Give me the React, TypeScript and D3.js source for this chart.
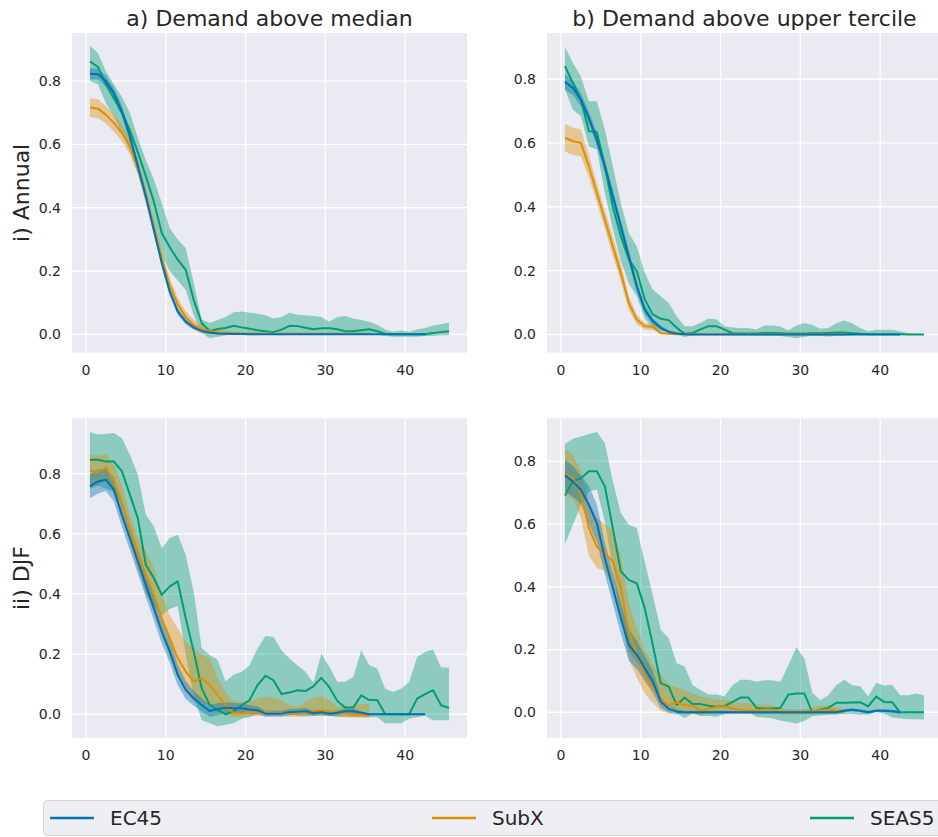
import React from "react";
import * as d3 from "d3";

// ---------- data ----------
const LEAD = [
  0.5, 1.5, 2.5, 3.5, 4.5, 5.5, 6.5, 7.5, 8.5, 9.5, 10.5, 11.5, 12.5, 13.5, 14.5, 15.5,
  16.5, 17.5, 18.5, 19.5, 20.5, 21.5, 22.5, 23.5, 24.5, 25.5, 26.5, 27.5, 28.5, 29.5, 30.5,
  31.5, 32.5, 33.5, 34.5, 35.5, 36.5, 37.5, 38.5, 39.5, 40.5, 41.5, 42.5, 43.5, 44.5, 45.5,
];

const MODELS = ["EC45", "SubX", "SEAS5"];
const COLORS = ["#0173B2", "#DE8F05", "#029E73"];
const COL_TITLES = ["a) Demand above median", "b) Demand above upper tercile"];
const ROW_TITLES = ["i) Annual", "ii) DJF"];
const Y_TICKS = [0, 0.2, 0.4, 0.6, 0.8];
const X_TICKS = [0, 10, 20, 30, 40];

// a-i  (Annual, above median)
const A1_EC_MEAN = [0.823,0.822,0.8,0.762,0.705,0.626,0.531,0.436,0.331,0.226,0.135,0.072,0.04,0.022,0.011,0.006,0.003,0.002,0.001,0.001,0,0,0,0,0,0,0,0,0,0,0,0,0,0,0,0,0,0,0,0,0,0,0];
const A1_EC_CI = [0.018,0.017,0.017,0.017,0.017,0.017,0.017,0.017,0.016,0.015,0.013,0.011,0.009,0.007,0.005,0.004,0.003,0.002,0.002,0.001,0.001,0.001,0.001,0.001,0.001,0.001,0.001,0.001,0.001,0.001,0.001,0.001,0.001,0.001,0.001,0.001,0.001,0.001,0.001,0.001,0.001,0.001,0.001];
const A1_SX_MEAN = [0.717,0.713,0.694,0.668,0.636,0.594,0.53,0.44,0.34,0.24,0.155,0.095,0.055,0.03,0.017,0.01,0.007,0.005,0.004,0.003,0.003,0.003,0.002,0.002,0.002,0.002,0.002,0.002,0.002,0.002,0.002,0.002,0.002,0.002,0.002,0.002];
const A1_SX_CI = [0.03,0.03,0.028,0.027,0.026,0.025,0.025,0.025,0.025,0.024,0.022,0.02,0.018,0.016,0.014,0.01,0.007,0.005,0.004,0.003,0.003,0.003,0.003,0.003,0.003,0.003,0.003,0.003,0.003,0.003,0.003,0.003,0.003,0.003,0.003,0.003];
const A1_S5_MEAN = [0.862,0.845,0.79,0.745,0.7,0.645,0.575,0.5,0.42,0.32,0.275,0.236,0.204,0.109,0.036,0.01,0.017,0.02,0.027,0.022,0.018,0.013,0.01,0.007,0.015,0.027,0.026,0.021,0.016,0.019,0.019,0.016,0.01,0.01,0.013,0.016,0.01,0.002,0,0,0,0,0,0.004,0.007,0.01];
const A1_S5_LO = [0.8,0.79,0.73,0.69,0.635,0.58,0.51,0.43,0.35,0.25,0.2,0.17,0.14,0.06,0.005,-0.012,-0.008,-0.003,0,0,0,0,0,0,0,0.003,0.003,0.002,0,0.002,0.002,0,0,0,0,0,0,-0.005,-0.008,-0.008,-0.008,-0.008,-0.005,-0.005,-0.003,-0.003];
const A1_S5_HI = [0.912,0.889,0.83,0.79,0.75,0.7,0.62,0.55,0.49,0.415,0.335,0.3,0.273,0.163,0.047,0.037,0.045,0.055,0.07,0.072,0.068,0.065,0.06,0.05,0.055,0.068,0.062,0.06,0.058,0.055,0.04,0.055,0.058,0.05,0.045,0.04,0.03,0.015,0.008,0.012,0.008,0.015,0.02,0.028,0.033,0.037];

// b-i  (Annual, above upper tercile)
const B1_EC_MEAN = [0.791,0.772,0.735,0.678,0.61,0.527,0.433,0.339,0.245,0.151,0.078,0.042,0.021,0.008,0.003,0.001,0,0,0,0,0,0,0,0,0,0,0,0,0,0,0,0,0,0,0,0,0,0,0,0,0,0,0];
const B1_EC_CI = [0.025,0.022,0.02,0.02,0.02,0.02,0.02,0.02,0.02,0.018,0.014,0.01,0.007,0.005,0.003,0.002,0.001,0.001,0.001,0.001,0.001,0.001,0.001,0.001,0.001,0.001,0.001,0.001,0.001,0.001,0.001,0.001,0.001,0.001,0.001,0.001,0.001,0.001,0.001,0.001,0.001,0.001,0.001];
const B1_SX_MEAN = [0.616,0.605,0.6,0.527,0.443,0.36,0.276,0.193,0.099,0.047,0.026,0.024,0.005,0.002,0.001,0.001,0.001,0.001,0.001,0.001,0.001,0.001,0.001,0.001,0.001,0.001,0.001,0.001,0.001,0.001,0.001,0.001,0.001,0.001,0.001,0.001];
const B1_SX_CI = [0.043,0.043,0.042,0.035,0.03,0.03,0.03,0.028,0.022,0.015,0.01,0.01,0.004,0.002,0.002,0.001,0.001,0.001,0.001,0.001,0.001,0.001,0.001,0.001,0.001,0.001,0.001,0.001,0.001,0.001,0.001,0.001,0.001,0.001,0.001,0.001];
const B1_S5_MEAN = [0.84,0.788,0.735,0.636,0.634,0.527,0.4,0.308,0.235,0.198,0.11,0.063,0.049,0.045,0.021,0.002,0.005,0.016,0.026,0.026,0.015,0.004,0.003,0.003,0.003,0.005,0.005,0.004,0.003,0.003,0.003,0.004,0.004,0.005,0.006,0.006,0.004,0.002,0.001,0.001,0.001,0.001,0.001,0,0,0];
const B1_S5_LO = [0.767,0.704,0.683,0.589,0.579,0.443,0.33,0.23,0.16,0.12,0.05,0.02,0.01,0.01,0,-0.008,-0.003,0.003,0.005,0.005,0.003,0,-0.002,-0.002,-0.003,-0.003,-0.004,-0.005,-0.008,-0.012,-0.008,-0.004,-0.005,-0.006,-0.005,-0.004,-0.002,-0.001,0,0,0,0,0,0,0,0];
const B1_S5_HI = [0.9,0.85,0.808,0.73,0.73,0.642,0.527,0.412,0.318,0.276,0.193,0.141,0.12,0.099,0.057,0.026,0.026,0.037,0.05,0.047,0.026,0.022,0.02,0.02,0.016,0.028,0.028,0.025,0.013,0.028,0.036,0.03,0.018,0.02,0.035,0.044,0.035,0.02,0.01,0.015,0.015,0.015,0.01,0.005,0.002,0];

// a-ii (DJF, above median)
const A2_EC_MEAN = [0.758,0.774,0.78,0.747,0.663,0.586,0.508,0.43,0.353,0.275,0.209,0.131,0.081,0.053,0.031,0.011,0.017,0.022,0.02,0.02,0.016,0.013,0.002,0.002,0.002,0.007,0.008,0.01,0.004,0.007,0.002,0.005,0.01,0.01,0.005,0,0,0,0,0,0,0,0];
const A2_EC_CI = [0.04,0.04,0.038,0.04,0.04,0.04,0.04,0.04,0.04,0.04,0.038,0.035,0.03,0.025,0.022,0.02,0.02,0.018,0.017,0.016,0.015,0.013,0.01,0.01,0.01,0.01,0.01,0.01,0.008,0.008,0.008,0.008,0.008,0.008,0.005,0.003,0.002,0.002,0.002,0.002,0.002,0.002,0.002];
const A2_SX_MEAN = [0.81,0.805,0.82,0.774,0.708,0.619,0.53,0.464,0.397,0.319,0.253,0.186,0.142,0.109,0.12,0.098,0.064,0.031,0.003,0.003,0.006,0.006,0.005,0.003,0.005,0.003,0.003,0.005,0.011,0.013,0.01,0.005,0.003,-0.003,-0.003,-0.003];
const A2_SX_LO = [0.76,0.76,0.78,0.73,0.65,0.57,0.48,0.41,0.34,0.26,0.19,0.13,0.08,0.04,0.04,0.03,0.01,0,-0.01,-0.01,-0.006,-0.006,-0.006,-0.006,-0.006,-0.008,-0.008,-0.008,-0.006,-0.005,-0.006,-0.008,-0.01,-0.012,-0.012,-0.012];
const A2_SX_HI = [0.863,0.861,0.865,0.83,0.763,0.663,0.586,0.541,0.486,0.397,0.33,0.286,0.242,0.22,0.197,0.186,0.12,0.075,0.042,0.042,0.041,0.052,0.058,0.055,0.047,0.03,0.024,0.041,0.055,0.06,0.047,0.026,0.026,0.03,0.033,0.035];
const A2_S5_MEAN = [0.846,0.846,0.84,0.84,0.808,0.73,0.652,0.497,0.453,0.397,0.425,0.442,0.319,0.209,0.087,0.031,0.014,0,0.01,0.03,0.047,0.097,0.128,0.113,0.067,0.072,0.08,0.077,0.093,0.121,0.09,0.044,0.022,0.022,0.063,0.047,0.047,0,0,0,0,0.052,0.067,0.08,0.03,0.021];
const A2_S5_LO = [0.75,0.76,0.75,0.74,0.7,0.6,0.51,0.4,0.36,0.33,0.35,0.36,0.2,0.06,-0.02,-0.03,-0.04,-0.035,-0.03,-0.015,-0.01,0,0.01,0.01,0,0,-0.005,-0.005,-0.005,-0.005,-0.005,-0.008,-0.008,-0.008,-0.008,-0.01,-0.01,-0.03,-0.03,-0.03,-0.015,-0.01,-0.005,-0.02,-0.02,-0.02];
const A2_S5_HI = [0.938,0.93,0.932,0.935,0.918,0.863,0.796,0.663,0.625,0.552,0.586,0.597,0.53,0.408,0.22,0.197,0.181,0.109,0.131,0.141,0.163,0.219,0.26,0.257,0.213,0.185,0.163,0.141,0.105,0.202,0.158,0.108,0.108,0.124,0.213,0.163,0.152,0.085,0.074,0.085,0.108,0.19,0.207,0.215,0.155,0.155];

// b-ii (DJF, above upper tercile)
const B2_EC_MEAN = [0.755,0.736,0.709,0.661,0.603,0.491,0.396,0.3,0.215,0.183,0.14,0.098,0.034,0.011,0.002,0,0,0,0,0,0,0,0,0,0,0,0,0,0,0,0,0,0,0,0,0.005,0.008,0.005,0,0.005,0.005,0.003,0];
const B2_EC_CI = [0.05,0.05,0.045,0.06,0.06,0.05,0.05,0.05,0.05,0.045,0.04,0.035,0.02,0.012,0.008,0.005,0.005,0.005,0.005,0.005,0.005,0.005,0.005,0.005,0.005,0.005,0.005,0.005,0.005,0.005,0.005,0.005,0.005,0.005,0.005,0.005,0.005,0.005,0.005,0.005,0.005,0.005,0.005];
const B2_SX_MEAN = [0.759,0.746,0.7,0.587,0.528,0.507,0.48,0.396,0.257,0.183,0.119,0.077,0.045,0.023,0.031,0.023,0.021,0.005,0.011,0.017,0.019,0.012,0.008,0.006,0.006,0.009,0.009,0.003,0,0,0,0.003,0.006,0.009,0.006,0];
const B2_SX_LO = [0.69,0.68,0.62,0.5,0.46,0.45,0.4,0.3,0.17,0.11,0.06,0.03,0.005,-0.005,0,0,-0.005,-0.01,-0.005,0,-0.003,-0.004,-0.005,-0.005,-0.005,-0.004,-0.004,-0.006,-0.008,-0.008,-0.008,-0.006,-0.004,-0.003,-0.004,-0.006];
const B2_SX_HI = [0.84,0.82,0.77,0.67,0.62,0.6,0.58,0.5,0.35,0.27,0.2,0.15,0.12,0.09,0.08,0.07,0.06,0.05,0.045,0.04,0.04,0.035,0.03,0.03,0.025,0.025,0.022,0.015,0.01,0.01,0.01,0.015,0.02,0.022,0.018,0.01];
const B2_S5_MEAN = [0.691,0.736,0.746,0.768,0.768,0.72,0.587,0.449,0.422,0.411,0.332,0.215,0.093,0.082,0.023,0.047,0.026,0.026,0.021,0.018,0.02,0.033,0.047,0.047,0.014,0.012,0.012,0.014,0.057,0.06,0.06,0,0.008,0.014,0.03,0.03,0.031,0.032,0.019,0.05,0.033,0.032,0,0,0,0];
const B2_S5_LO = [0.536,0.598,0.661,0.704,0.709,0.608,0.459,0.3,0.194,0.162,0.119,0.087,0.055,0.029,-0.003,-0.019,-0.003,-0.012,-0.012,-0.014,-0.006,0.001,0.006,0,-0.015,-0.017,-0.02,-0.026,-0.031,-0.036,-0.028,-0.013,-0.01,-0.008,-0.007,-0.005,-0.005,-0.008,-0.007,0.001,-0.004,-0.017,-0.02,-0.022,-0.022,-0.023];
const B2_S5_HI = [0.855,0.872,0.879,0.887,0.893,0.858,0.736,0.635,0.598,0.587,0.48,0.374,0.263,0.236,0.156,0.146,0.087,0.071,0.057,0.057,0.051,0.086,0.104,0.104,0.097,0.102,0.102,0.097,0.15,0.208,0.171,0.062,0.038,0.054,0.086,0.104,0.086,0.083,0.05,0.094,0.085,0.088,0.054,0.054,0.06,0.054];

// ---------- helpers ----------
type Series = { mean: number[]; lo: number[]; hi: number[] };
const withCi = (mean: number[], ci: number[]): Series => ({
  mean,
  lo: mean.map((m, i) => m - ci[i]),
  hi: mean.map((m, i) => m + ci[i]),
});
const withBand = (mean: number[], lo: number[], hi: number[]): Series => ({ mean, lo, hi });

const PANELS = [
  { row: 0, col: 0, yDomain: [-0.058, 0.952], series: [withCi(A1_EC_MEAN, A1_EC_CI), withCi(A1_SX_MEAN, A1_SX_CI), withBand(A1_S5_MEAN, A1_S5_LO, A1_S5_HI)] },
  { row: 0, col: 1, yDomain: [-0.057, 0.944], series: [withCi(B1_EC_MEAN, B1_EC_CI), withCi(B1_SX_MEAN, B1_SX_CI), withBand(B1_S5_MEAN, B1_S5_LO, B1_S5_HI)] },
  { row: 1, col: 0, yDomain: [-0.079, 0.984], series: [withCi(A2_EC_MEAN, A2_EC_CI), withBand(A2_SX_MEAN, A2_SX_LO, A2_SX_HI), withBand(A2_S5_MEAN, A2_S5_LO, A2_S5_HI)] },
  { row: 1, col: 1, yDomain: [-0.082, 0.937], series: [withCi(B2_EC_MEAN, B2_EC_CI), withBand(B2_SX_MEAN, B2_SX_LO, B2_SX_HI), withBand(B2_S5_MEAN, B2_S5_LO, B2_S5_HI)] },
];

// ---------- layout ----------
const W = 938;
const H = 837;
const COL_X = [72, 547];
const ROW_Y = [33, 418.3];
const PW = 395;
const PH = 319.7;
const FONT = "'DejaVu Sans', sans-serif";
const TXT = "#262626";
const DRAW_ORDER = [2, 1, 0];

function Panel({ p, idx }: { p: (typeof PANELS)[number]; idx: number }) {
  const x = d3.scaleLinear().domain([-1.75, 47.75]).range([0, PW]);
  const y = d3.scaleLinear().domain(p.yDomain).range([PH, 0]);
  const line = d3
    .line<[number, number]>()
    .x((d) => x(d[0]))
    .y((d) => y(d[1]));
  const area = d3
    .area<[number, number, number]>()
    .x((d) => x(d[0]))
    .y0((d) => y(d[1]))
    .y1((d) => y(d[2]));
  const clipId = `clip-${idx}`;
  return (
    <g transform={`translate(${COL_X[p.col]},${ROW_Y[p.row]})`}>
      <defs>
        <clipPath id={clipId}>
          <rect x={0} y={0} width={PW} height={PH} />
        </clipPath>
      </defs>
      <rect x={0} y={0} width={PW} height={PH} fill="#EAEAF2" />
      {X_TICKS.map((t) => (
        <line key={"gx" + t} x1={x(t)} x2={x(t)} y1={0} y2={PH} stroke="#fff" strokeWidth={1.3} />
      ))}
      {Y_TICKS.map((t) => (
        <line key={"gy" + t} x1={0} x2={PW} y1={y(t)} y2={y(t)} stroke="#fff" strokeWidth={1.3} />
      ))}
      <g clipPath={`url(#${clipId})`}>
        {DRAW_ORDER.map((k) => {
          const s = p.series[k];
          const pts = s.mean.map((_, i) => [LEAD[i], s.lo[i], s.hi[i]] as [number, number, number]);
          return <path key={"a" + k} d={area(pts) || ""} fill={COLORS[k]} fillOpacity={0.4} stroke="none" />;
        })}
        {DRAW_ORDER.map((k) => {
          const s = p.series[k];
          const pts = s.mean.map((m, i) => [LEAD[i], m] as [number, number]);
          return (
            <path key={"l" + k} d={line(pts) || ""} fill="none" stroke={COLORS[k]} strokeWidth={2} strokeLinejoin="round" />
          );
        })}
      </g>
      {Y_TICKS.map((t) => (
        <text key={"ty" + t} x={-11} y={y(t)} dy="0.35em" textAnchor="end" fontSize={14} fill={TXT} fontFamily={FONT}>
          {t.toFixed(1)}
        </text>
      ))}
      {X_TICKS.map((t) => (
        <text key={"tx" + t} x={x(t)} y={PH + 22} textAnchor="middle" fontSize={14} fill={TXT} fontFamily={FONT}>
          {t}
        </text>
      ))}
    </g>
  );
}

export default function App() {
  const legendX = [50, 432, 810];
  return (
    <svg width={W} height={H} style={{ position: "absolute", left: 0, top: 0, background: "#fff" }}>
      {PANELS.map((p, i) => (
        <Panel key={i} p={p} idx={i} />
      ))}
      {COL_TITLES.map((t, i) => (
        <text key={t} x={COL_X[i] + PW / 2} y={26} textAnchor="middle" fontSize={22} fill={TXT} fontFamily={FONT}>
          {t}
        </text>
      ))}
      {ROW_TITLES.map((t, i) => (
        <text
          key={t}
          transform={`translate(29,${ROW_Y[i] + PH / 2}) rotate(-90)`}
          textAnchor="middle"
          fontSize={22}
          fill={TXT}
          fontFamily={FONT}
        >
          {t}
        </text>
      ))}
      <rect x={43.5} y={800.5} width={910} height={35} rx={4} fill="#EEEEF4" stroke="#D4D4D4" strokeWidth={1} />
      {MODELS.map((m, i) => (
        <g key={m}>
          <line x1={legendX[i]} x2={legendX[i] + 44} y1={818} y2={818} stroke={COLORS[i]} strokeWidth={2.5} />
          <text x={legendX[i] + 60} y={818} dy="0.35em" fontSize={20} fill={TXT} fontFamily={FONT}>
            {m}
          </text>
        </g>
      ))}
    </svg>
  );
}
